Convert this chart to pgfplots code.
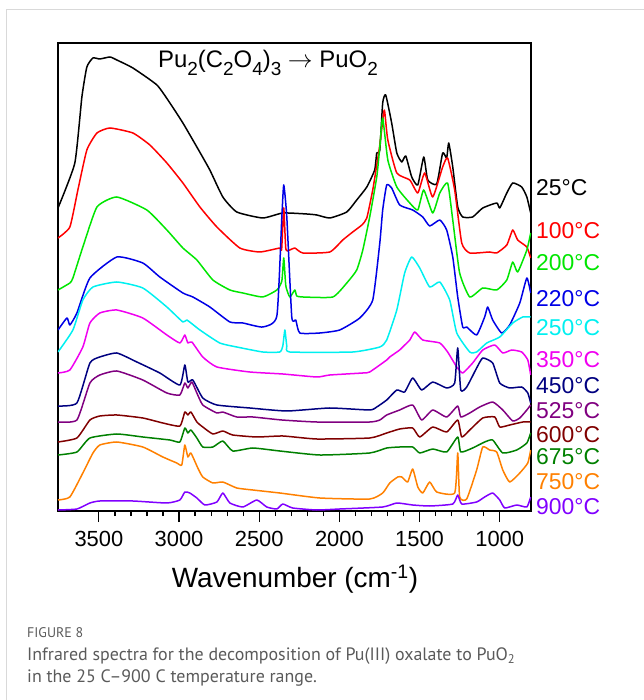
\documentclass[border=0pt]{standalone}
\usepackage{fontspec}
\setmainfont{Liberation Sans}
\newfontfamily\capfont{PT Sans}
\usepackage{pgfplots}
\pgfplotsset{compat=1.18}

\definecolor{cA}{RGB}{0,0,0}
\definecolor{cB}{RGB}{255,0,0}
\definecolor{cC}{RGB}{0,230,0}
\definecolor{cD}{RGB}{0,0,230}
\definecolor{cE}{RGB}{0,240,240}
\definecolor{cF}{RGB}{240,0,240}
\definecolor{cG}{RGB}{0,0,128}
\definecolor{cH}{RGB}{128,0,128}
\definecolor{cI}{RGB}{128,0,0}
\definecolor{cJ}{RGB}{0,128,0}
\definecolor{cK}{RGB}{255,128,0}
\definecolor{cL}{RGB}{128,0,255}
\definecolor{capgray}{RGB}{90,90,90}

\newcommand{\sub}[1]{\raisebox{-0.3em}{\fontsize{19}{19}\selectfont #1}}

\begin{document}
\begin{tikzpicture}[x=1bp,y=1bp]
% page frame, in page coordinates shifted so that the axis corner is the origin
\begin{scope}[shift={(-58,-189)}]
\path[use as bounding box] (0,0) rectangle (644,700);
\draw[line width=1bp, gray!30] (7,0) -- (7,690) -- (644,690);
\end{scope}

\begin{axis}[
    scale only axis, width=473bp, height=468bp,
    x dir=reverse,
    xmin=805, xmax=3755,
    ymin=0, ymax=468,
    ytick=\empty,
    xtick={1000,1500,...,3500},
    minor x tick num=4,
    xtick pos=left,
    tick align=outside,
    major tick length=11bp,
    minor tick length=5bp,
    tick style={black, line width=1.2bp},
    axis line style={line width=1.3bp},
    xticklabel style={font=\fontsize{22}{26}\selectfont, yshift=-6bp},
    /pgf/number format/assume math mode=true,
    /pgf/number format/1000 sep={},
    every axis plot/.append style={line width=1.5bp, line join=round, no marks, smooth, tension=0.3},
    clip=true,
]
% 25 C
\addplot[cA] coordinates {
(3755,303) (3650,348) (3606,414) (3575,444) (3537,453) (3494,452) (3431,454)
(3388,451) (3288,443) (3138,426) (3057,408) (2976,388) (2889,364) (2808,341)
(2727,314) (2640,299) (2478,293) (2353,298) (2203,297) (2141,296) (2060,293)
(1954,299) (1892,311) (1829,324) (1780,341) (1767,358) (1748,361) (1730,408)
(1711,416) (1674,388) (1642,358) (1611,349) (1586,355) (1549,334) (1511,326)
(1474,354) (1449,331) (1393,327) (1356,358) (1331,353) (1318,368) (1293,344)
(1262,304) (1231,294) (1169,294) (1106,303) (1019,308) (1000,303) (956,318)
(919,328) (863,324) (831,314) (807,298)
};
% 100 C
\addplot[cB] coordinates {
(3755,273) (3681,284) (3631,321) (3575,361) (3512,378) (3431,383) (3288,378)
(3182,366) (3076,348) (2976,328) (2870,304) (2764,284) (2621,263) (2496,259)
(2372,263) (2360,262) (2347,303) (2334,262) (2309,261) (2278,263) (2228,258)
(2060,259) (1979,271) (1917,279) (1860,286) (1829,293) (1792,321) (1767,346)
(1748,366) (1723,399) (1717,399) (1698,371) (1642,338) (1561,331) (1511,318)
(1468,338) (1418,314) (1356,344) (1325,353) (1281,321) (1237,268) (1187,258)
(1063,259) (1019,258) (956,266) (919,281) (888,271) (831,264) (807,253)
};
% 200 C
\addplot[cC] coordinates {
(3755,221) (3681,228) (3662,233) (3600,264) (3512,304) (3388,314) (3201,301)
(3076,281) (2976,263) (2889,251) (2789,231) (2683,221) (2602,218) (2478,214)
(2390,221) (2359,230) (2347,253) (2334,225) (2309,214) (2278,221) (2266,215)
(2228,214) (2041,214) (1954,228) (1892,241) (1854,261) (1811,294) (1767,334)
(1748,364) (1730,393) (1698,351) (1642,324) (1561,308) (1511,301) (1474,321)
(1418,298) (1374,318) (1325,328) (1293,291) (1250,238) (1187,214) (1106,223)
(1019,221) (956,231) (919,249) (888,239) (831,261) (807,278)
};
% 220 C
\addplot[cD] coordinates {
(3755,181) (3699,193) (3681,186) (3637,198) (3556,233) (3388,254) (3226,248)
(3120,234) (2976,218) (2914,214) (2808,204) (2683,189) (2602,188) (2478,184)
(2390,195) (2359,294) (2347,326) (2328,294) (2297,194) (2272,191) (2247,178)
(2122,178) (1998,181) (1873,193) (1792,211) (1748,268) (1730,301) (1705,326)
(1674,323) (1624,306) (1543,301) (1480,294) (1437,285) (1374,291) (1331,281)
(1293,254) (1262,214) (1231,184) (1206,184) (1144,176) (1094,194) (1075,204)
(1044,191) (988,178) (938,186) (875,208) (831,233) (807,218)
};
% 250 C
\addplot[cE] coordinates {
(3755,159) (3662,181) (3600,211) (3537,224) (3388,229) (3226,223) (3076,204)
(2976,189) (2951,191) (2870,181) (2746,168) (2640,164) (2478,159) (2372,159)
(2353,165) (2340,181) (2328,165) (2309,159) (1917,159) (1748,164) (1705,171)
(1642,201) (1593,238) (1549,254) (1499,243) (1437,224) (1374,229) (1312,211)
(1268,178) (1187,159) (1144,159) (1081,168) (1000,174) (919,188) (856,194)
(807,194)
};
% 350 C
\addplot[cF] coordinates {
(3755,138) (3681,141) (3600,164) (3556,188) (3494,198) (3388,201) (3226,193)
(3076,176) (2995,168) (2964,176) (2945,168) (2920,169) (2852,154) (2764,144)
(2559,139) (2353,137) (2141,134) (2060,136) (1854,138) (1811,139) (1705,151)
(1686,154) (1624,161) (1605,164) (1561,171) (1530,179) (1480,171) (1374,168)
(1325,159) (1268,144) (1231,138) (1169,148) (1106,161) (1031,166) (981,158)
(925,161) (863,159) (825,151) (807,136)
};
% 450 C
\addplot[cG] coordinates {
(3755,105) (3637,108) (3556,148) (3494,154) (3388,158) (3263,149) (3120,138)
(2995,126) (2964,146) (2945,129) (2914,131) (2852,113) (2764,106) (2559,103)
(2328,100) (2060,103) (1811,101) (1767,104) (1705,111) (1642,121) (1593,119)
(1543,133) (1487,121) (1418,129) (1331,123) (1281,128) (1262,163) (1243,121)
(1206,124) (1144,143) (1106,153) (1044,148) (1000,128) (938,123) (863,124)
(825,118) (807,108)
};
% 525 C
\addplot[cH] coordinates {
(3755,89) (3637,91) (3556,128) (3494,136) (3388,140) (3226,131) (3076,118)
(2995,116) (2964,128) (2945,123) (2920,129) (2889,118) (2852,106) (2764,98)
(2727,99) (2640,94) (2540,94) (2359,91) (2141,89) (1811,89) (1748,91)
(1705,96) (1624,101) (1543,106) (1487,91) (1418,101) (1331,94) (1262,105)
(1243,94) (1187,98) (1125,104) (1044,109) (981,101) (919,90) (875,93)
(831,101) (807,106)
};
% 600 C
\addplot[cI] coordinates {
(3755,69) (3637,73) (3556,91) (3494,95) (3388,96) (3226,93) (3101,88)
(2995,85) (2964,99) (2945,96) (2926,99) (2889,89) (2852,84) (2789,77)
(2727,80) (2665,76) (2515,74) (2353,75) (2141,72) (1811,73) (1705,78)
(1624,82) (1543,83) (1499,74) (1418,84) (1331,79) (1262,91) (1237,74)
(1187,81) (1106,93) (1031,94) (1000,84) (938,86) (856,89) (807,89)
};
% 675 C
\addplot[cJ] coordinates {
(3755,56) (3637,59) (3556,73) (3388,77) (3226,74) (3057,71) (2995,69)
(2964,83) (2945,78) (2926,81) (2889,73) (2852,64) (2789,64) (2727,70)
(2665,60) (2540,63) (2372,60) (2122,56) (1811,58) (1705,63) (1624,64)
(1543,64) (1499,58) (1418,62) (1331,59) (1262,74) (1243,59) (1169,63)
(1094,69) (1044,71) (981,58) (894,61) (831,68) (807,78)
};
% 750 C
\addplot[cK] coordinates {
(3755,11) (3681,14) (3600,38) (3537,58) (3494,66) (3388,69) (3226,64)
(3101,54) (3014,48) (2983,46) (2964,66) (2945,54) (2926,58) (2883,43)
(2852,34) (2789,28) (2727,29) (2640,23) (2540,21) (2372,18) (2122,13)
(1811,12) (1730,18) (1686,28) (1636,34) (1611,34) (1574,29) (1543,42)
(1511,24) (1480,18) (1437,29) (1393,19) (1281,18) (1262,58) (1250,14)
(1206,12) (1144,41) (1106,64) (1063,61) (1019,59) (981,41) (938,29)
(875,38) (825,48) (807,61)
};
% 900 C
\addplot[cL] coordinates {
(3755,1) (3637,2) (3556,8) (3494,10) (3288,10) (3076,8) (2995,11)
(2964,19) (2933,18) (2889,13) (2839,6) (2764,9) (2727,18) (2683,8)
(2602,4) (2515,11) (2453,4) (2390,2) (2353,7) (2291,3) (2141,1)
(1998,2) (1730,4) (1642,8) (1543,6) (1437,5) (1293,7) (1262,16)
(1237,7) (1144,9) (1094,14) (1044,18) (1000,11) (969,3) (894,6)
(831,4) (807,14)
};
\end{axis}

\begin{scope}[shift={(-58,-189)}]
% title
\node[font=\fontsize{24}{27}\selectfont] at (268,637)
  {Pu\sub{2}(C\sub{2}O\sub{4})\sub{3} $\rightarrow$ PuO\sub{2}};
% x label
\node[font=\fontsize{28}{32}\selectfont] at (295,121)
  {Wavenumber (cm\textsuperscript{-1})};

% temperature labels
\begin{scope}[every node/.style={anchor=west, inner sep=0pt, font=\fontsize{23}{26}\selectfont}]
\node[text=cA] at (536,512) {25°C};
\node[text=cB] at (536,469) {100°C};
\node[text=cC] at (536,437) {200°C};
\node[text=cD] at (536,401) {220°C};
\node[text=cE] at (536,372) {250°C};
\node[text=cF] at (536,340) {350°C};
\node[text=cG] at (536,314) {450°C};
\node[text=cH] at (536,289) {525°C};
\node[text=cI] at (536,265) {600°C};
\node[text=cJ] at (536,243) {675°C};
\node[text=cK] at (536,218) {750°C};
\node[text=cL] at (536,193) {900°C};
\end{scope}

% caption
\node[anchor=base west, inner sep=0pt, text=capgray, font=\capfont\fontsize{14}{16}\selectfont] at (27,63) {FIGURE 8};
\node[anchor=base west, inner sep=0pt, text=capgray, font=\capfont\fontsize{18}{20}\selectfont] at (27,40)
  {Infrared spectra for the decomposition of Pu(III) oxalate to PuO\textsubscript{2}};
\node[anchor=base west, inner sep=0pt, text=capgray, font=\capfont\fontsize{18}{20}\selectfont] at (27,18)
  {in the 25 C–900 C temperature range.};
\end{scope}
\end{tikzpicture}
\end{document}
